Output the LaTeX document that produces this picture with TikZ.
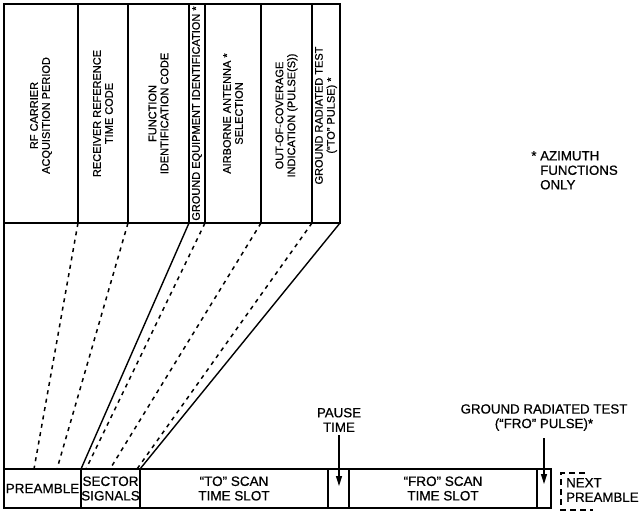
\documentclass[tikz,border=0pt]{standalone}
\usepackage{fontspec}
\setmainfont{Liberation Sans}[FakeBold=0.6]
\usepackage{tikz}
\usetikzlibrary{arrows.meta,positioning,calc}

\tikzset{
  topbox/.style={draw, line width=1.4pt, minimum height=219pt, inner sep=0pt, outer sep=0pt},
  vtext/.style={rotate=90, align=center, inner sep=0pt, font=\fontsize{11}{12}\selectfont},
  rowbox/.style={draw, line width=1.4pt, minimum height=39pt, inner sep=0pt, outer sep=0pt,
                 align=center, font=\fontsize{13.5}{14.5}\selectfont},
  tag/.style={align=center, inner sep=0pt, font=\fontsize{13.3}{14.5}\selectfont},
  link/.style={line width=1.4pt},
  dlink/.style={line width=1.5pt, dash pattern=on 4pt off 4.5pt},
  pointer/.style={line width=1.4pt, -{Triangle[width=6pt,length=10pt]}},
}

\begin{document}
\begin{tikzpicture}[x=1pt, y=-1pt]
        \useasboundingbox (0,0) rectangle (642,514);
        % Preamble fields (top band)
        \node[topbox, minimum width=74pt] (rf) at (41,113.5) {};
        \node[vtext] at ([yshift=-2pt]rf.center) {RF CARRIER\\ACQUISITION PERIOD};
        \node[topbox, minimum width=50pt] (recv) at (103,113.5) {};
        \node[vtext] at (recv.center) {RECEIVER REFERENCE\\TIME CODE};
        \node[topbox, minimum width=61pt] (func) at (158.5,113.5) {};
        \node[vtext] at (func.center) {FUNCTION\\IDENTIFICATION CODE};
        \node[topbox, minimum width=16pt] (gei) at (197,113.5) {};
        \node[vtext] at (gei.center) {GROUND EQUIPMENT IDENTIFICATION *};
        \node[topbox, minimum width=56pt] (air) at (233,113.5) {};
        \node[vtext] at (air.center) {AIRBORNE ANTENNA *\\SELECTION};
        \node[topbox, minimum width=51pt] (ooc) at (286.5,113.5) {};
        \node[vtext] at ([yshift=-2pt]ooc.center) {OUT-OF-COVERAGE\\INDICATION (PULSE(S))};
        \node[topbox, minimum width=28pt] (grt) at (326,113.5) {};
        \node[vtext] at ([yshift=-2pt]grt.center) {GROUND RADIATED TEST\\(“TO” PULSE) *};
        % Footnote
        \node[tag, align=left, anchor=north west] (note) at (540,151)
          {\llap{* }AZIMUTH\\FUNCTIONS\\ONLY};
        % Function time line (bottom row)
        \node[rowbox, minimum width=77pt] (preamble) at (42.5,488.5) {PREAMBLE};
        \node[rowbox, minimum width=59pt] (sector) at (110.5,488.5) {SECTOR\\SIGNALS};
        \node[rowbox, minimum width=188pt] (toslot) at (234,488.5) {“TO” SCAN\\TIME SLOT};
        \node[rowbox, minimum width=21pt] (pause) at (338.5,488.5) {};
        \node[rowbox, minimum width=188pt] (froslot) at (443,488.5) {“FRO” SCAN\\TIME SLOT};
        \node[rowbox, minimum width=14pt] (frotest) at (544,488.5) {};
        \node[tag, align=left, anchor=west] (nextpre) at (566,490) {NEXT\\PREAMBLE};
        \draw[line width=1.4pt, dash pattern=on 6pt off 4pt] (585,473) -| (561,510) -- (593,510);
        % Expansion of the preamble and sector signals
        \coordinate (c1) at (34,469);
        \coordinate (c2) at (57,469);
        \coordinate (c3) at (86,469);
        \coordinate (c4) at (110,469);
        \coordinate (c5) at (137,469);
        \draw[link] (rf.south west) -- (preamble.north west);
        \draw[dlink] (rf.south east) -- (c1);
        \draw[dlink] (recv.south east) -- (c2);
        \draw[link] (func.south east) -- (preamble.north east);
        \draw[dlink] (gei.south east) -- (c3);
        \draw[dlink] (air.south east) -- (c4);
        \draw[dlink] (ooc.south east) -- (c5);
        \draw[link] (grt.south east) -- (sector.north east);
        % Pointers
        \node[tag, anchor=south] (pauselbl) at (339,432) {PAUSE\\TIME};
        \coordinate (pausetip) at (339,486);
        \draw[pointer, shorten <=3pt] (pauselbl.south) -- (pausetip);
        \node[tag, anchor=south] (frolbl) at (544,431) {GROUND RADIATED TEST\\(“FRO” PULSE)*};
        \coordinate (frotip) at (544,484);
        \draw[pointer, shorten <=7pt] (frolbl.south) -- (frotip);
      \end{tikzpicture}
\end{document}
